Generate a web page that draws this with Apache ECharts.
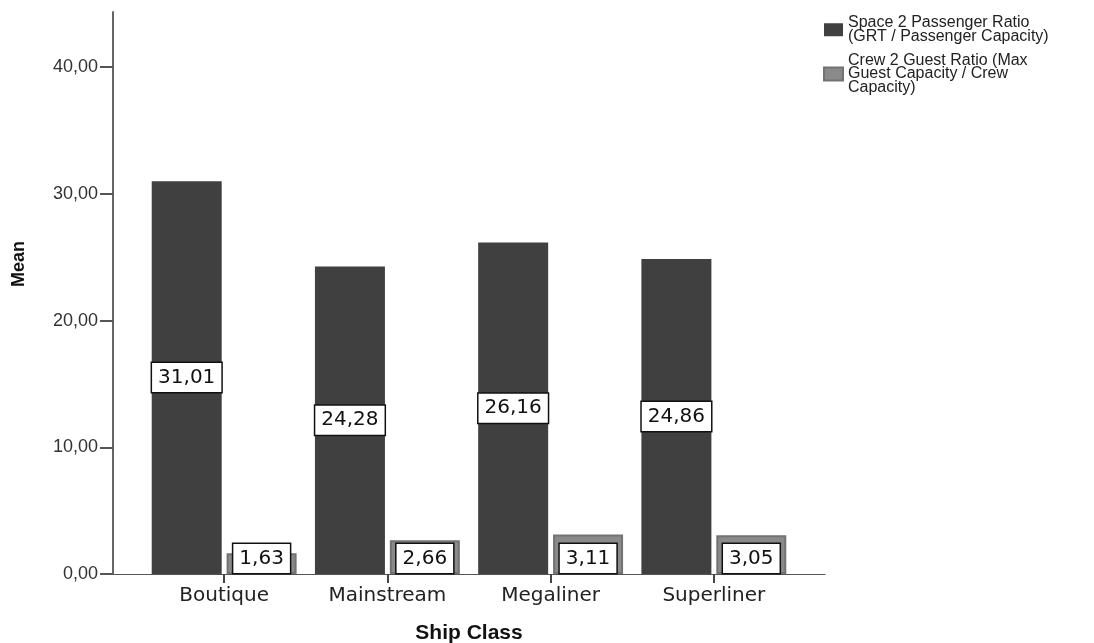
<!DOCTYPE html>
<html>
<head>
<meta charset="utf-8">
<script src="https://cdn.jsdelivr.net/npm/echarts@6/dist/echarts.min.js"></script>
<style>
html,body{margin:0;padding:0;background:#fff;}
#chart{width:1094px;height:643px;}
</style>
</head>
<body>
<div id="chart"></div>
<script>
const categories = ['Boutique', 'Mainstream', 'Megaliner', 'Superliner'];
const spaceRatio = [31.01, 24.28, 26.16, 24.86];
const crewRatio = [1.63, 2.66, 3.11, 3.05];
const yTicks = [0, 10, 20, 30, 40];
const seriesNames = [
  'Space 2 Passenger Ratio (GRT / Passenger Capacity)',
  'Crew 2 Guest Ratio (Max Guest Capacity / Crew Capacity)'
];
const legendText = {};
legendText[seriesNames[0]] = 'Space 2 Passenger Ratio\n(GRT / Passenger Capacity)';
legendText[seriesNames[1]] = 'Crew 2 Guest Ratio (Max\nGuest Capacity / Crew\nCapacity)';

const fmt = v => v.toFixed(2).replace('.', ',');
const catIdx = categories.map((c, i) => i);

const labelBox = {
  show: true,
  formatter: p => fmt(p.value[1]),
  fontFamily: 'DejaVu Sans',
  fontSize: 20,
  lineHeight: 20,
  color: '#111',
  backgroundColor: '#fff',
  borderColor: '#111',
  borderWidth: 1.5,
  padding: [5, 6, 4, 6]
};

const chart = echarts.init(document.getElementById('chart'));
chart.setOption({
  animation: false,
  backgroundColor: '#fff',
  grid: { left: 113, right: 269, top: 12, bottom: 69, containLabel: false, outerBoundsMode: 'none' },
  legend: {
    orient: 'vertical',
    left: 823,
    top: 15,
    padding: 0,
    itemWidth: 19,
    itemHeight: 13,
    itemGap: 8,
    icon: 'rect',
    data: seriesNames,
    formatter: n => legendText[n],
    textStyle: { fontFamily: 'Liberation Sans', fontSize: 16, lineHeight: 13.5, color: '#222' }
  },
  xAxis: {
    type: 'value',
    min: -0.681,
    max: 3.681,
    name: 'Ship Class',
    nameLocation: 'middle',
    nameGap: 49,
    nameTextStyle: { fontFamily: 'Liberation Sans', fontWeight: 'bold', fontSize: 21, color: '#111' },
    splitLine: { show: false },
    axisLine: { show: true, onZero: false, lineStyle: { color: '#555', width: 1 } },
    axisTick: { show: true, customValues: catIdx, length: 9, lineStyle: { color: '#444', width: 2 } },
    axisLabel: {
      customValues: catIdx,
      formatter: v => categories[Math.round(v)],
      fontFamily: 'DejaVu Sans',
      fontSize: 20,
      color: '#222',
      margin: 12
    }
  },
  yAxis: {
    type: 'value',
    min: 0,
    max: 44.36,
    interval: 10,
    name: 'Mean',
    nameLocation: 'middle',
    nameGap: 85,
    nameRotate: 90,
    nameTextStyle: { fontFamily: 'Liberation Sans', fontWeight: 'bold', fontSize: 18, color: '#111', padding: [0, 0, 0, 58] },
    splitLine: { show: false },
    axisLine: { show: true, onZero: false, lineStyle: { color: '#666', width: 2 } },
    axisTick: { show: true, customValues: yTicks, length: 13, lineStyle: { color: '#555', width: 2 } },
    axisLabel: {
      customValues: yTicks,
      formatter: v => fmt(v),
      fontFamily: 'Liberation Sans',
      fontSize: 18,
      color: '#333',
      margin: 15
    }
  },
  series: [
    {
      name: seriesNames[0],
      type: 'bar',
      barWidth: 70,
      barGap: '7%',
      itemStyle: { color: '#404040' },
      label: Object.assign({}, labelBox, { position: 'inside' }),
      data: catIdx.map(i => [i, spaceRatio[i]])
    },
    {
      name: seriesNames[1],
      type: 'bar',
      barWidth: 70,
      barGap: '7%',
      itemStyle: { color: '#8a8a8a', borderColor: '#737373', borderWidth: 2 },
      label: Object.assign({}, labelBox, { position: 'insideBottom', distance: 1 }),
      data: catIdx.map(i => [i, crewRatio[i]])
    }
  ]
});
</script>
</body>
</html>
